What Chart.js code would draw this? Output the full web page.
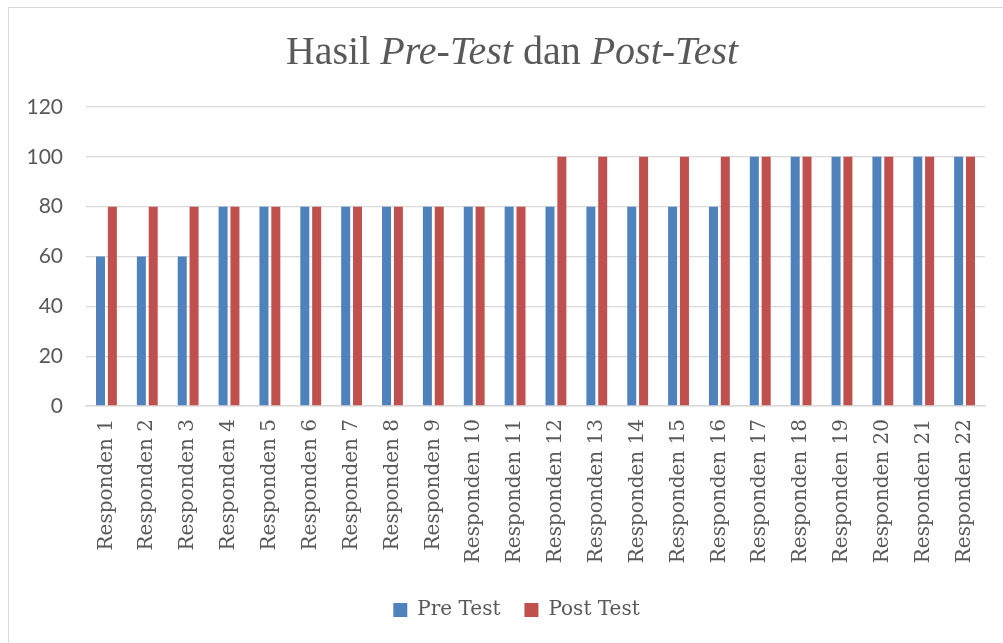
<!DOCTYPE html>
<html>
<head>
<meta charset="utf-8">
<script src="https://cdn.jsdelivr.net/npm/chart.js@4/dist/chart.umd.min.js"></script>
<style>
  html, body { margin: 0; padding: 0; background: #fff; overflow: hidden; }
  #frame { position: absolute; left: 8px; top: 7px; width: 1010px; height: 650px; border: 1.5px solid #d9d9d9; }
  #wrap { position: absolute; left: 0; top: 0; width: 1003px; height: 643px; }
</style>
</head>
<body>
<div id="frame"></div>
<div id="wrap"><canvas id="chart" width="1003" height="643"></canvas></div>
<script>
// Data
var categories = ['Responden 1', 'Responden 2', 'Responden 3', 'Responden 4', 'Responden 5',
  'Responden 6', 'Responden 7', 'Responden 8', 'Responden 9', 'Responden 10', 'Responden 11',
  'Responden 12', 'Responden 13', 'Responden 14', 'Responden 15', 'Responden 16', 'Responden 17',
  'Responden 18', 'Responden 19', 'Responden 20', 'Responden 21', 'Responden 22'];
var preTest  = [60, 60, 60, 80, 80, 80, 80, 80, 80, 80, 80, 80, 80, 80, 80, 80, 100, 100, 100, 100, 100, 100];
var postTest = [80, 80, 80, 80, 80, 80, 80, 80, 80, 80, 80, 100, 100, 100, 100, 100, 100, 100, 100, 100, 100, 100];
var seriesNames = ['Pre Test', 'Post Test'];
// Title parts (italic where true)
var titleParts = [['Hasil ', false], ['Pre-Test', true], [' dan ', false], ['Post-Test', true]];

var textColor = '#595959';

// title with mixed upright / italic text
var mixedTitle = {
  id: 'mixedTitle',
  afterLayout: function(chart) {
    // centre the legend like the original (not on the full width)
    chart.legend.left = 48;
    chart.legend.right = 985;
    chart.legend.width = 937;
  },
  afterDraw: function(chart) {
    var ctx = chart.ctx;
    var size = 40;
    ctx.save();
    ctx.fillStyle = textColor;
    ctx.textBaseline = 'alphabetic';
    var total = 0;
    titleParts.forEach(function(p) {
      ctx.font = (p[1] ? 'italic ' : '') + size + 'px "Liberation Serif"';
      total += ctx.measureText(p[0]).width;
    });
    var x = 512 - total / 2;
    titleParts.forEach(function(p) {
      ctx.font = (p[1] ? 'italic ' : '') + size + 'px "Liberation Serif"';
      ctx.fillText(p[0], x, 64);
      x += ctx.measureText(p[0]).width;
    });
    ctx.restore();
  }
};

var ctx = document.getElementById('chart').getContext('2d');
var chart = new Chart(ctx, {
  type: 'bar',
  data: {
    labels: categories,
    datasets: [
      { label: seriesNames[0], data: preTest, backgroundColor: '#4F81BD',
        categoryPercentage: 0.58, barPercentage: 0.76 },
      { label: seriesNames[1], data: postTest, backgroundColor: '#C0504D',
        categoryPercentage: 0.58, barPercentage: 0.76 }
    ]
  },
  options: {
    responsive: false,
    animation: false,
    layout: { padding: { top: 107, left: 0, right: 18, bottom: 13 } },
    plugins: {
      title: { display: false },
      tooltip: { enabled: false },
      legend: {
        position: 'bottom',
        labels: {
          color: textColor,
          font: { family: '"DejaVu Serif"', size: 20 },
          boxWidth: 14,
          boxHeight: 14,
          padding: 24
        }
      }
    },
    scales: {
      x: {
        grid: { display: false, drawTicks: false },
        border: { display: true, color: '#d9d9d9', width: 1.5 },
        ticks: {
          color: textColor,
          font: { family: '"DejaVu Serif"', size: 20 },
          minRotation: 90,
          maxRotation: 90,
          autoSkip: false,
          padding: 13
        },
        afterFit: function(scale) { scale.height = 170; }
      },
      y: {
        min: 0,
        max: 120,
        ticks: {
          stepSize: 20,
          color: textColor,
          font: { family: 'Lato', size: 21 },
          padding: 23
        },
        grid: { color: '#d9d9d9', lineWidth: 1.3, drawTicks: false },
        border: { display: false },
        afterFit: function(scale) { scale.width = 86; }
      }
    }
  },
  plugins: [mixedTitle]
});
</script>
</body>
</html>
